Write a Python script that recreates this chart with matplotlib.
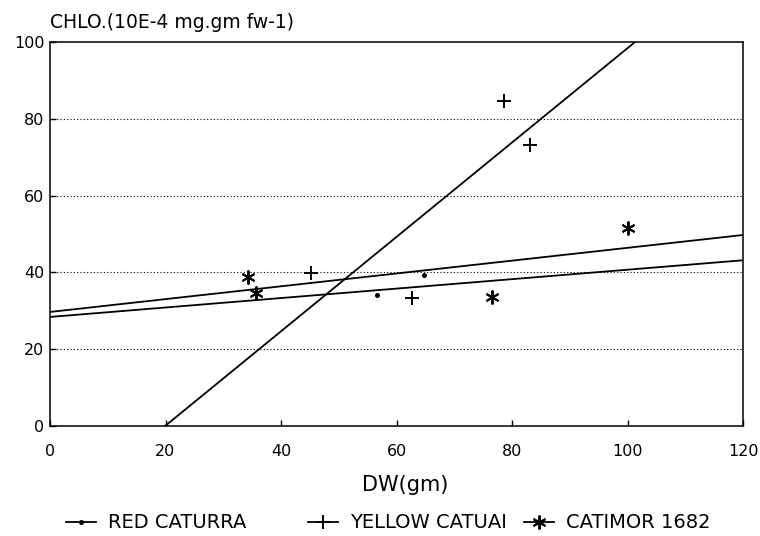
import numpy as np
import matplotlib
matplotlib.use("Agg")
import matplotlib.pyplot as plt
from matplotlib.lines import Line2D

plt.rcParams['font.family'] = ['DejaVu Sans']

# Observed points (dry weight vs chlorophyll)
red_x = [56.6, 64.8]
red_y = [34.0, 39.3]
yellow_x = [45.2, 62.7, 78.6, 83.1]
yellow_y = [39.8, 33.3, 84.6, 73.2]
catimor_x = [34.3, 35.6, 76.5, 100.1]
catimor_y = [38.8, 34.6, 33.6, 51.6]

# Linear regression fits: (intercept, slope)
red_fit = (28.4, 0.123)
yellow_fit = (-24.5, 1.229)
catimor_fit = (29.7, 0.167)

names = ["RED CATURRA", "YELLOW CATUAI", "CATIMOR 1682"]
x_ticks = [0, 20, 40, 60, 80, 100, 120]
y_ticks = [0, 20, 40, 60, 80, 100]

W, H = 760, 536
fig = plt.figure(figsize=(W / 100, H / 100), dpi=100)
ax = fig.add_axes([50 / W, 1 - 426 / H, 693 / W, 384 / H])

asterisk = (6, 2, 0)
lw = 1.3
xs = np.array([0.0, 120.0])
for fit in (red_fit, yellow_fit, catimor_fit):
    ax.plot(xs, fit[0] + fit[1] * xs, color="black", lw=lw, zorder=3)

ax.plot(red_x, red_y, ls="none", marker="o", ms=2.6, color="black", zorder=4)
ax.plot(yellow_x, yellow_y, ls="none", marker="+", ms=10, mew=1.4,
        color="black", zorder=4)
ax.plot(catimor_x, catimor_y, ls="none", marker=asterisk, ms=10, mew=1.4,
        color="black", zorder=4)

ax.set_xlim(0, 120)
ax.set_ylim(0, 100)
ax.set_xticks(x_ticks)
ax.set_yticks(y_ticks)
ax.tick_params(direction="in", length=4, width=1, labelsize=11.5,
               colors="black")
ax.tick_params(axis="x", pad=13)
ax.tick_params(axis="y", pad=4)
for gy in y_ticks[1:-1]:
    ax.axhline(gy, color="black", lw=0.8, ls=(0, (1, 2)), zorder=1)
for s in ax.spines.values():
    s.set_linewidth(1.1)

fig.text(405 / W, 1 - 485 / H, "DW(gm)", fontsize=15,
         ha="center", va="center")
fig.text(50 / W, 1 - 23 / H, "CHLO.(10E-4 mg.gm fw-1)", fontsize=13.5,
         ha="left", va="center")

handles = [
    Line2D([], [], color="black", lw=lw, marker="o", ms=2.6),
    Line2D([], [], color="black", lw=lw, marker="+", ms=10, mew=1.4),
    Line2D([], [], color="black", lw=lw, marker=asterisk, ms=10, mew=1.4),
]
legend_left = [66, 308, 524]
for h, name, x0 in zip(handles, names, legend_left):
    fig.legend([h], [name], loc="center left",
               bbox_to_anchor=(x0 / W, 1 - 523 / H), frameon=False,
               fontsize=14, handlelength=1.55, handletextpad=0.6,
               borderpad=0, borderaxespad=0)

fig.savefig("out.png", dpi=100, facecolor="white")
